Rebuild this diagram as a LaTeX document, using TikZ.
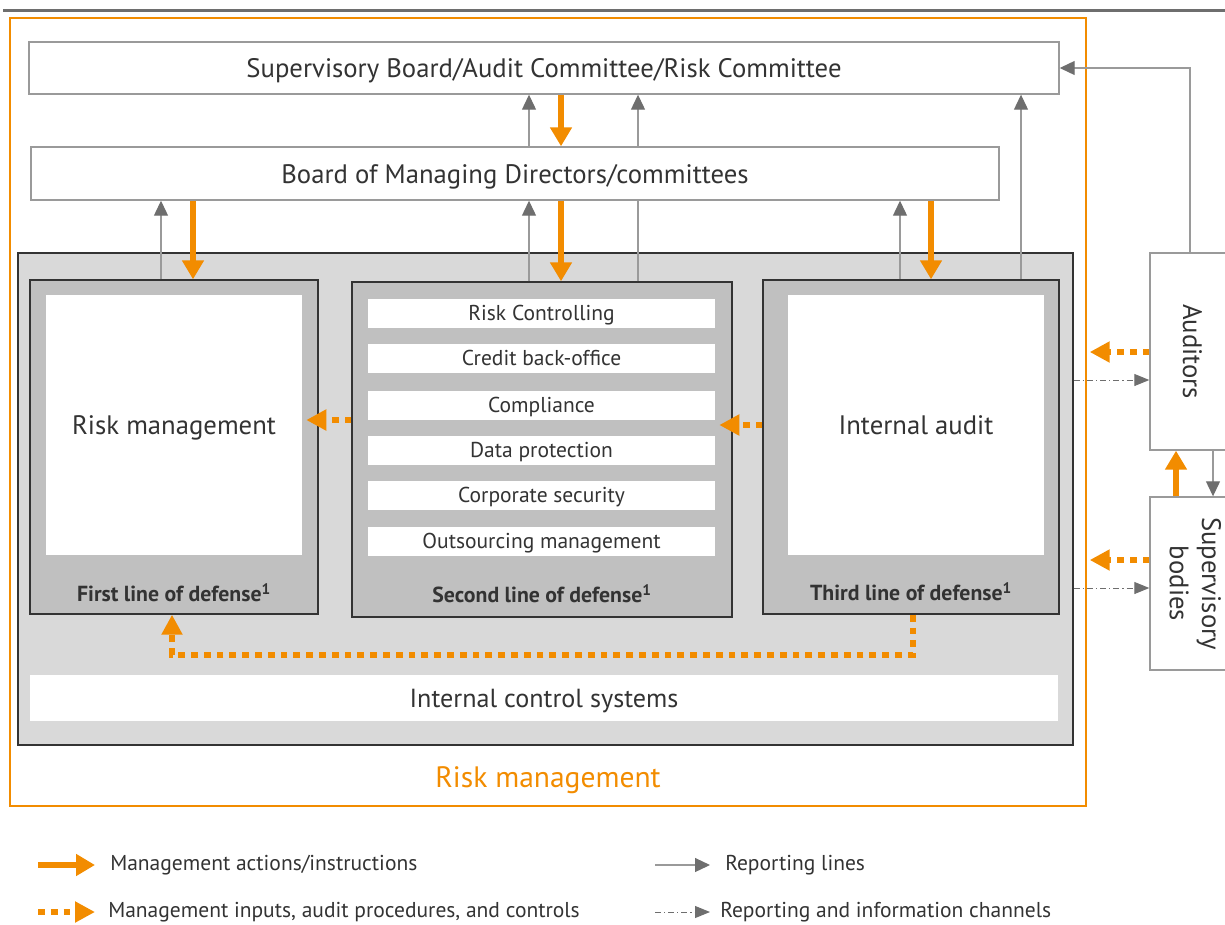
\documentclass[tikz,border=0pt]{standalone}
\usepackage{fontspec}
\setmainfont{PT Sans}
\usepackage{graphicx}
\usetikzlibrary{arrows.meta,positioning}

\definecolor{rmorange}{HTML}{F28C00}
\definecolor{rmgray}{HTML}{6E6E6E}
\definecolor{rmline}{HTML}{9A9A9A}
\definecolor{panel}{HTML}{D9D9D9}
\definecolor{linebox}{HTML}{C0C0C0}
\definecolor{txt}{HTML}{333333}

\begin{document}
\begin{tikzpicture}[x=0.25mm, y=-0.25mm, text=txt,
  font=\fontsize{15.3}{18}\selectfont,
  box/.style={draw=rmline, line width=0.35mm, fill=white, inner sep=0pt,
    font=\fontsize{19}{23}\selectfont},
  flat/.style={text depth=0pt},
  inner/.style={fill=white, inner sep=0pt, minimum width=64mm, minimum height=65mm,
    text depth=0pt, font=\fontsize{19}{23}\selectfont},
  item/.style={fill=white, inner sep=0pt, minimum width=86.75mm, minimum height=7.25mm,
    text depth=0pt},
  defense/.style={draw=black!80, line width=0.35mm, fill=linebox, inner sep=0pt},
  deflabel/.style={font=\bfseries\fontsize{15.5}{18}\selectfont, inner sep=0pt},
  legend/.style={inner sep=0pt, font=\fontsize{15.3}{18}\selectfont},
  report/.style={draw=rmline, line width=0.3mm,
    -{Triangle[length=3.75mm, width=3.5mm, color=rmgray]}},
  channel/.style={draw=rmgray, line width=0.25mm,
    dash pattern=on 1.5mm off 0.75mm on 0.3mm off 0.75mm,
    -{Triangle[length=3.75mm, width=3mm, color=rmgray]}},
  mgmt/.style={draw=rmorange, line width=1.3mm,
    -{Triangle[length=4.75mm, width=5.25mm, color=rmorange]}},
  input/.style={draw=rmorange, line width=1.5mm, dash pattern=on 1.7mm off 1.5mm,
    -{Triangle[length=5mm, width=5mm, color=rmorange]}},
]
\useasboundingbox (0,0) rectangle (1225,924);

% rule on top and the orange frame
\draw[rmgray, line width=0.75mm] (3,10) -- (1225,10);
\node[draw=rmorange, line width=0.35mm, minimum width=269mm, minimum height=197mm,
  inner sep=0pt] (frame) at (548,412) {};
\node[text=rmorange, font=\fontsize{21}{25}\selectfont] (framelbl) at (548,780) {Risk management};

% boards
\node[box, flat, minimum width=257.5mm, minimum height=13mm] (sup) at (544,68)
  {Supervisory Board/Audit Committee/Risk Committee};

% internal control panel with the three lines of defense
\node[draw=black!80, line width=0.35mm, fill=panel, minimum width=263.75mm,
  minimum height=123mm, inner sep=0pt] (ctl) at (545.5,499) {};

\node[defense, minimum width=72mm, minimum height=83.5mm] (first) at (174,447) {};
\node[inner] (rmw) at (174,425) {Risk management};
\node[deflabel] (firstlbl) at (174,593) {First line of defense\textsuperscript{1}};

\node[defense, minimum width=95mm, minimum height=83.75mm] (second) at (542,449.5) {};
\foreach \name/\y/\txt in {risk/313/Risk Controlling, credit/358/Credit back-office,
    comp/405/Compliance, data/450/Data protection, corp/495/Corporate security,
    outs/541/Outsourcing management}
  \node[item] (\name) at (541.5,\y) {\txt};
\node[deflabel] (secondlbl) at (542,594) {Second line of defense\textsuperscript{1}};

\node[defense, minimum width=74mm, minimum height=83.5mm] (third) at (911,447) {};
\node[inner] (audw) at (916,425) {Internal audit};
\node[deflabel] (thirdlbl) at (911,592) {Third line of defense\textsuperscript{1}};

\node[fill=white, flat, minimum width=257mm, minimum height=11.5mm, inner sep=0pt,
  font=\fontsize{18.6}{22}\selectfont] (ics) at (544,698) {Internal control systems};

% this one runs behind the managing board
\draw[report] (second.north -| 638,0) -- (sup.south -| 638,0);

\node[box, flat, minimum width=242mm, minimum height=13.25mm] (bomd) at (515,173.5)
  {Board of Managing Directors/committees};

% external parties
\node[box, minimum width=21.25mm, minimum height=49.25mm] (aud) at (1192.5,351.5)
  {\rotatebox{-90}{Auditors}};
\node[box, minimum width=21.25mm, minimum height=43.25mm] (supb) at (1192.5,583.5)
  {\rotatebox{-90}{\begin{tabular}{@{}c@{}}Supervisory\\bodies\end{tabular}}};

% reporting lines
\draw[report] (bomd.north -| 529,0) -- (sup.south -| 529,0);
\draw[report] (third.north -| 1021,0) -- (sup.south -| 1021,0);
\draw[report] (first.north -| 161,0) -- (bomd.south -| 161,0);
\draw[report] (second.north -| 529,0) -- (bomd.south -| 529,0);
\draw[report] (third.north -| 900,0) -- (bomd.south -| 900,0);
\draw[report] (aud.north -| 1190,0) |- (sup.east);
\draw[report] (aud.south -| 1213,0) -- (supb.north -| 1213,0);

% management actions
\draw[mgmt] (sup.south -| 561,0) -- (bomd.north -| 561,0);
\draw[mgmt] (bomd.south -| 193,0) -- (first.north -| 193,0);
\draw[mgmt] (bomd.south -| 561,0) -- (second.north -| 561,0);
\draw[mgmt] (bomd.south -| 931,0) -- (third.north -| 931,0);
\draw[mgmt] (supb.north -| 1176,0) -- (aud.south -| 1176,0);

% inputs, audit procedures and controls
\draw[input, shorten >=1mm] (second.west |- 0,420) -- (rmw.east |- 0,420);
\draw[input, shorten >=1mm] (third.west |- 0,425) -- (comp.east |- 0,425);
\draw[input, shorten >=0.75mm] (aud.west |- 0,352) -- (frame.east |- 0,352);
\draw[input, shorten >=0.75mm] (supb.west |- 0,560) -- (frame.east |- 0,560);
\draw[input] (third.south -| 913,0) -- ++(0,40) -| (first.south -| 172,0);

% information channels
\draw[channel] (ctl.east |- 0,380) -- (aud.west |- 0,380);
\draw[channel] (ctl.east |- 0,588) -- (supb.west |- 0,588);

% legend
\coordinate (k1a) at (38,865);  \coordinate (k1b) at (95,865);
\coordinate (k2a) at (38,912);  \coordinate (k2b) at (95,912);
\coordinate (k3a) at (655,865); \coordinate (k3b) at (710,865);
\coordinate (k4a) at (655,912); \coordinate (k4b) at (710,912);
\draw[mgmt] (k1a) -- (k1b);
\draw[input] (k2a) -- (k2b);
\draw[report] (k3a) -- (k3b);
\draw[channel] (k4a) -- (k4b);
\node[legend, right=3.75mm of k1b] (l1) {Management actions/instructions};
\node[legend, right=3.25mm of k2b] (l2) {Management inputs, audit procedures, and controls};
\node[legend, right=3.75mm of k3b] (l3) {Reporting lines};
\node[legend, right=2.5mm of k4b] (l4) {Reporting and information channels};
\end{tikzpicture}
\end{document}
